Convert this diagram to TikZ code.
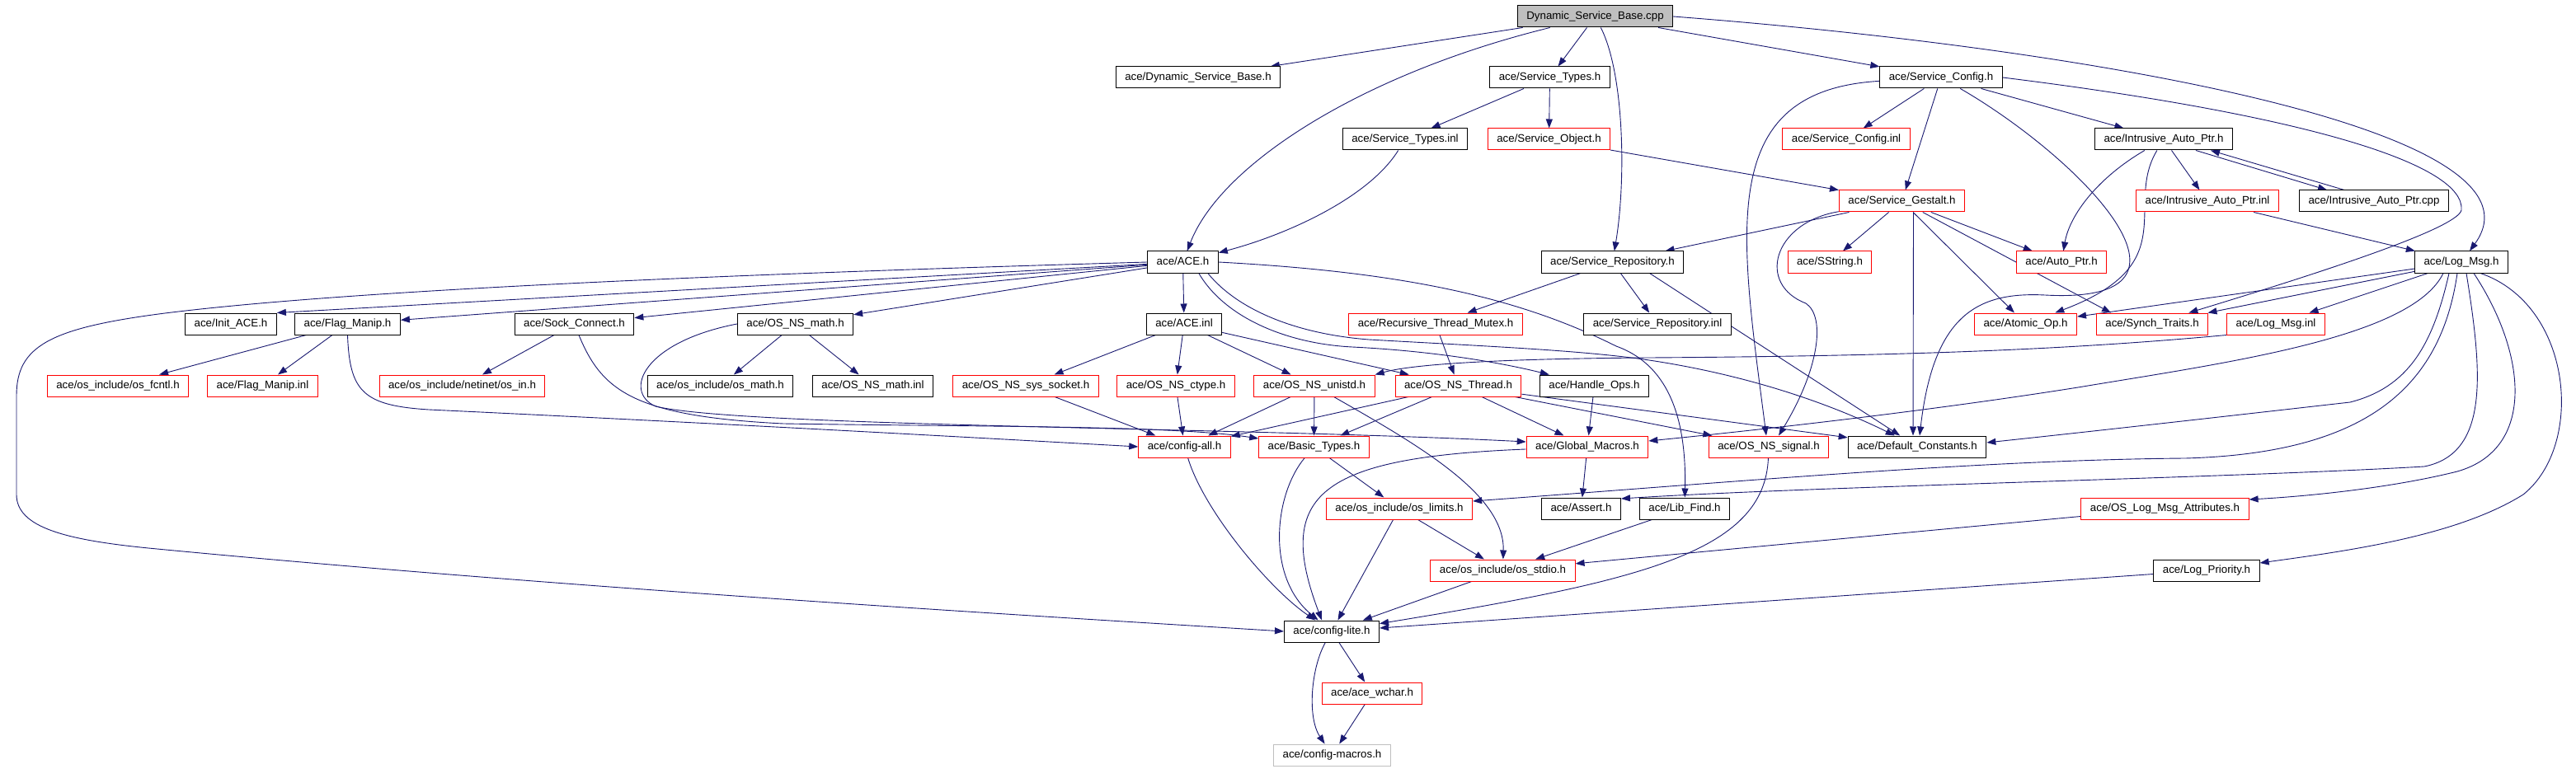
\documentclass[tikz,border=0pt]{standalone}
\usepackage{fontspec}
\setmainfont{Liberation Sans}
\usepackage{xcolor}
\usetikzlibrary{arrows.meta, backgrounds}

\definecolor{inclblue}{RGB}{25,25,112}
\definecolor{grey75}{RGB}{191,191,191}

\tikzset{
	filebox/.style = {draw = black, fill = white, line width = 1pt, inner xsep = 11pt, inner ysep = 0pt, minimum height = 26pt, text height = 10pt, text depth = 3pt, font = \fontsize{13.3}{15}\selectfont},
	redbox/.style = {filebox, draw = red},
	rootbox/.style = {filebox, fill = grey75},
	greybox/.style = {filebox, draw = grey75},
	incl/.style = {draw = inclblue, line width = 0.9pt, -{Triangle[length = 11pt, width = 8pt]}}
}

\begin{document}
\begin{tikzpicture}[x = 1pt, y = -1pt]
	\def\picW{3124}
	\def\picH{933}

	\useasboundingbox (0,0) rectangle (\picW,\picH);

	\node [rootbox] (dsb) at (1934.5,20) {Dynamic\_Service\_Base.cpp};

	\node [filebox] (dsbh) at (1453,94) {ace/Dynamic\_Service\_Base.h};
	\node [filebox] (sth) at (1879.5,94) {ace/Service\_Types.h};
	\node [filebox] (sch) at (2354,94) {ace/Service\_Config.h};

	\node [filebox] (stinl) at (1704,169) {ace/Service\_Types.inl};
	\node [redbox] (sobj) at (1878.5,169) {ace/Service\_Object.h};
	\node [redbox] (scinl) at (2239,169) {ace/Service\_Config.inl};
	\node [filebox] (iaph) at (2624,169) {ace/Intrusive\_Auto\_Ptr.h};

	\node [redbox] (sgest) at (2306.5,244) {ace/Service\_Gestalt.h};
	\node [redbox] (iapinl) at (2677,244) {ace/Intrusive\_Auto\_Ptr.inl};
	\node [filebox] (iapcpp) at (2879,244) {ace/Intrusive\_Auto\_Ptr.cpp};

	\node [filebox] (aceh) at (1434.5,318) {ace/ACE.h};
	\node [filebox] (srh) at (1955.5,318) {ace/Service\_Repository.h};
	\node [redbox] (sstring) at (2219,318) {ace/SString.h};
	\node [redbox] (autoptr) at (2500,318) {ace/Auto\_Ptr.h};
	\node [filebox] (logmsgh) at (2985,318) {ace/Log\_Msg.h};

	\node [filebox] (initace) at (280,393) {ace/Init\_ACE.h};
	\node [filebox] (flagh) at (421.5,393) {ace/Flag\_Manip.h};
	\node [filebox] (sockh) at (696.5,393) {ace/Sock\_Connect.h};
	\node [filebox] (mathh) at (964.5,393) {ace/OS\_NS\_math.h};
	\node [filebox] (aceinl) at (1436,393) {ace/ACE.inl};
	\node [redbox] (rtm) at (1741,393) {ace/Recursive\_Thread\_Mutex.h};
	\node [filebox] (srinl) at (2010,393) {ace/Service\_Repository.inl};
	\node [redbox] (atomic) at (2456.5,393) {ace/Atomic\_Op.h};
	\node [redbox] (synch) at (2610,393) {ace/Synch\_Traits.h};
	\node [redbox] (logmsginl) at (2760,393) {ace/Log\_Msg.inl};

	\node [redbox] (fcntl) at (143,468) {ace/os\_include/os\_fcntl.h};
	\node [redbox] (flaginl) at (318.5,468) {ace/Flag\_Manip.inl};
	\node [redbox] (netin) at (560.5,468) {ace/os\_include/netinet/os\_in.h};
	\node [filebox] (osmath) at (873.5,468) {ace/os\_include/os\_math.h};
	\node [filebox] (mathinl) at (1058.5,468) {ace/OS\_NS\_math.inl};
	\node [redbox] (socket) at (1244,468) {ace/OS\_NS\_sys\_socket.h};
	\node [redbox] (ctype) at (1426,468) {ace/OS\_NS\_ctype.h};
	\node [redbox] (unistd) at (1594,468) {ace/OS\_NS\_unistd.h};
	\node [redbox] (thread) at (1768.5,468) {ace/OS\_NS\_Thread.h};
	\node [filebox] (handle) at (1933.5,468) {ace/Handle\_Ops.h};

	\node [redbox] (configall) at (1436.5,542) {ace/config-all.h};
	\node [redbox] (basic) at (1593.5,542) {ace/Basic\_Types.h};
	\node [redbox] (globalm) at (1925,542) {ace/Global\_Macros.h};
	\node [redbox] (signal) at (2145,542) {ace/OS\_NS\_signal.h};
	\node [filebox] (defconst) at (2325,542) {ace/Default\_Constants.h};

	\node [redbox] (limits) at (1697,617) {ace/os\_include/os\_limits.h};
	\node [filebox] (assert) at (1917.5,617) {ace/Assert.h};
	\node [filebox] (libfind) at (2043,617) {ace/Lib\_Find.h};
	\node [redbox] (attrs) at (2625.5,617) {ace/OS\_Log\_Msg\_Attributes.h};

	\node [redbox] (stdio) at (1822.5,692) {ace/os\_include/os\_stdio.h};
	\node [filebox] (logprio) at (2676,692) {ace/Log\_Priority.h};

	\node [filebox] (configlite) at (1615,766) {ace/config-lite.h};
	\node [redbox] (wchar) at (1664,841) {ace/ace\_wchar.h};
	\node [greybox] (macros) at (1615.5,916) {ace/config-macros.h};

	\begin{scope}[on background layer]
		\draw [incl] (dsb) -- (dsbh);
		\draw [incl] (dsb) .. controls (1650,90) and (1480,200) .. (aceh);
		\draw [incl] (dsb) -- (sth);
		\draw [incl] (dsb) .. controls (1970,90) and (1972,220) .. (srh);
		\draw [incl] (dsb) -- (sch);
		\draw [incl] (dsb.east) .. controls (2550,60) and (3100,160) .. ([xshift=10pt]logmsgh.north);

		\draw [incl] (sth) -- (stinl);
		\draw [incl] (sth) -- (sobj);
		\draw [incl] (stinl) .. controls (1660,240) and (1560,285) .. (aceh);
		\draw [incl] (sobj) -- (sgest);

		\draw [incl] (sch) -- (scinl);
		\draw [incl] (sch) -- (sgest);
		\draw [incl] (sch) -- (iaph);
		\draw [incl] (sch) .. controls (2080,110) and (2110,280) .. ([xshift=-3pt]signal.north);
		\draw [incl] (sch) .. controls (2520,190) and (2700,370) .. (2480,358) .. controls (2400,354) and (2345,380) .. ([xshift=3pt]defconst.north);
		\draw [incl] (sch.east) .. controls (2800,140) and (2990,200) .. (2985,255) .. controls (2980,275) and (2850,320) .. (synch);

		\draw [incl] (iaph) -- (iapinl);
		\draw [incl] ([xshift=-45pt]iaph.south east) -- ([xshift=-57pt]iapcpp.north);
		\draw [incl] ([xshift=-36pt]iapcpp.north) -- ([xshift=-27pt]iaph.south east);
		\draw [incl] (iaph) .. controls (2545,215) and (2510,260) .. (autoptr);
		\draw [incl] (iaph) .. controls (2575,250) and (2650,320) .. (atomic);
		\draw [incl] (iapinl) -- (logmsgh);

		\draw [incl] (sgest) -- (srh);
		\draw [incl] (sgest) -- (sstring);
		\draw [incl] (sgest) -- (autoptr);
		\draw [incl] (sgest) -- (atomic);
		\draw [incl] (sgest) -- ([xshift=-50pt]synch.north);
		\draw [incl] ([xshift=14pt]sgest.south) -- ([xshift=-5pt]defconst.north);
		\draw [incl] (sgest) .. controls (2150,270) and (2130,345) .. (2190,368) .. controls (2215,385) and (2205,450) .. ([xshift=12pt]signal.north);

		\draw [incl] (srh) -- (rtm);
		\draw [incl] (srh) -- (srinl);
		\draw [incl] ([xshift=45pt]srh.south) -- (defconst);

		\draw [incl] (aceh) -- (initace.north east);
		\draw [incl] (aceh) -- (flagh);
		\draw [incl] (aceh) -- (sockh);
		\draw [incl] (aceh) -- (mathh);
		\draw [incl] (aceh) -- (aceinl);
		\draw [incl] (aceh.east) .. controls (1700,330) and (1840,360) .. (1960,420) .. controls (2030,445) and (2045,520) .. (libfind);
		\draw [incl] ([xshift=-24pt]aceh.south east) .. controls (1485,385) and (1560,417) .. (1640,421) .. controls (1740,426) and (1820,440) .. (handle);
		\draw [incl] ([xshift=-13pt]aceh.south east) .. controls (1500,375) and (1570,405) .. (1660,412) .. controls (1800,420) and (1920,425) .. (2000,437) .. controls (2120,455) and (2220,490) .. (defconst);
		\draw [incl] (aceh.west) .. controls (800,335) and (400,355) .. (200,380) .. controls (60,398) and (20,420) .. (20,480) -- (20,600) .. controls (20,640) and (80,655) .. (180,665) .. controls (700,715) and (1300,750) .. (configlite.west);

		\draw [incl] (flagh) -- (fcntl);
		\draw [incl] (flagh) -- (flaginl);
		\draw [incl] (flagh.south) .. controls (424,475) and (440,492) .. (520,497) .. controls (900,515) and (1200,532) .. (configall.west);
		\draw [incl] (sockh) -- (netin);
		\draw [incl] (sockh) .. controls (730,475) and (770,505) .. (950,514) .. controls (1200,518) and (1420,516) .. ([yshift=10pt]basic.west);
		\draw [incl] (mathh) -- (osmath);
		\draw [incl] (mathh) -- (mathinl);
		\draw [incl] (mathh.west) .. controls (780,415) and (755,475) .. (795,493) .. controls (900,518) and (1500,518) .. ([yshift=6pt]globalm.west);

		\draw [incl] (aceinl) -- (socket);
		\draw [incl] (aceinl) -- (ctype);
		\draw [incl] (aceinl) -- (unistd);
		\draw [incl] (aceinl) -- (thread);
		\draw [incl] (rtm) -- (thread);

		\draw [incl] (socket) -- (configall);
		\draw [incl] (ctype) -- (configall);
		\draw [incl] (unistd) -- (configall);
		\draw [incl] (unistd) -- (basic);
		\draw [incl] (unistd) .. controls (1720,540) and (1825,600) .. (stdio);
		\draw [incl] (thread) -- (configall);
		\draw [incl] (thread) -- (basic);
		\draw [incl] (thread) -- (globalm);
		\draw [incl] (thread) -- (signal);
		\draw [incl] (thread) -- (defconst);
		\draw [incl] (handle) -- (globalm);

		\draw [incl] (configall) .. controls (1460,620) and (1540,715) .. (configlite);
		\draw [incl] (basic) .. controls (1545,600) and (1535,700) .. (configlite);
		\draw [incl] (basic) -- (limits);
		\draw [incl] (globalm) .. controls (1600,555) and (1545,600) .. ([xshift=-12pt]configlite.north);
		\draw [incl] (globalm) -- (assert);
		\draw [incl] (signal) .. controls (2140,670) and (1990,705) .. (configlite);
		\draw [incl] (limits) -- (stdio);
		\draw [incl] (limits) -- (configlite);
		\draw [incl] (libfind) -- (stdio);
		\draw [incl] (attrs) -- (stdio);
		\draw [incl] (stdio) -- (configlite);
		\draw [incl] (logprio) -- (configlite);
		\draw [incl] (configlite) -- (wchar);
		\draw [incl] (configlite) .. controls (1590,810) and (1585,870) .. (macros);
		\draw [incl] (wchar) -- (macros);

		\draw [incl] (logmsgh) -- (atomic);
		\draw [incl] (logmsgh) -- (synch);
		\draw [incl] (logmsgh) -- (logmsginl);
		\draw [incl] ([xshift=-22pt]logmsgh.south) .. controls (2925,410) and (2700,440) .. (2520,470) .. controls (2350,497) and (2150,520) .. ([yshift=7pt]globalm.east);
		\draw [incl] ([xshift=-15pt]logmsgh.south) .. controls (2950,420) and (2920,470) .. (2850,488) .. controls (2700,505) and (2550,522) .. ([yshift=5pt]defconst.east);
		\draw [incl] ([xshift=-5pt]logmsgh.south) .. controls (2960,470) and (2870,550) .. (2650,556) .. controls (2400,558) and (2100,585) .. ([yshift=9pt]limits.east);
		\draw [incl] ([xshift=6pt]logmsgh.south) .. controls (3010,450) and (3020,550) .. (2940,566) .. controls (2700,580) and (2200,590) .. ([yshift=12pt]assert.east);
		\draw [incl] ([xshift=15pt]logmsgh.south) .. controls (3065,430) and (3075,545) .. (2980,572) .. controls (2900,592) and (2800,602) .. ([yshift=11pt]attrs.east);
		\draw [incl] ([xshift=23pt]logmsgh.south) .. controls (3120,370) and (3135,540) .. (3060,600) .. controls (2980,650) and (2850,668) .. ([yshift=9pt]logprio.east);
		\draw [incl] (logmsginl.south west) .. controls (2500,425) and (2300,432) .. (2000,434) .. controls (1850,435) and (1720,440) .. (unistd.north east);
	\end{scope}
\end{tikzpicture}
\end{document}
